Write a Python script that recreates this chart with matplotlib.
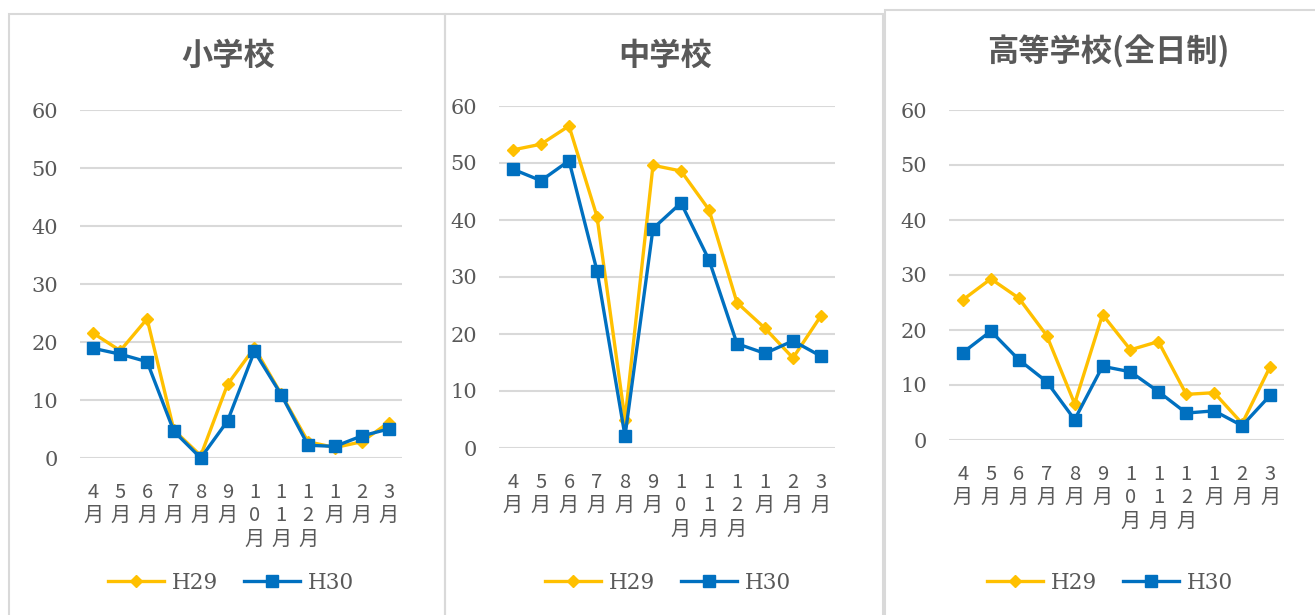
import matplotlib
matplotlib.use("Agg")
import matplotlib.pyplot as plt
from matplotlib.patches import Rectangle

months = ["4\n月", "5\n月", "6\n月", "7\n月", "8\n月", "9\n月",
          "1\n0\n月", "1\n1\n月", "1\n2\n月", "1\n月", "2\n月", "3\n月"]
titles = ["小学校", "中学校", "高等学校(全日制)"]
series_names = ["H29", "H30"]

elem_h29 = [21.5, 18.5, 24.0, 4.8, 0.4, 12.7, 19.0, 11.0, 2.8, 1.8, 2.8, 6.1]
elem_h30 = [18.9, 17.9, 16.6, 4.6, 0.0, 6.4, 18.4, 10.9, 2.2, 2.0, 3.8, 5.0]
mid_h29 = [52.3, 53.3, 56.5, 40.6, 5.0, 49.6, 48.6, 41.8, 25.5, 21.0, 15.8, 23.2]
mid_h30 = [48.9, 46.9, 50.4, 31.1, 2.1, 38.5, 43.0, 33.0, 18.3, 16.6, 18.8, 16.1]
high_h29 = [25.5, 29.3, 25.8, 19.0, 6.6, 22.8, 16.4, 17.9, 8.3, 8.6, 3.0, 13.3]
high_h30 = [15.9, 19.8, 14.6, 10.6, 3.7, 13.4, 12.4, 8.8, 4.9, 5.3, 2.6, 8.1]
yticks = [0, 10, 20, 30, 40, 50, 60]

data = [(elem_h29, elem_h30), (mid_h29, mid_h30), (high_h29, high_h30)]

W, H = 1315, 615
fig = plt.figure(figsize=(W / 100, H / 100), dpi=100)
fig.patch.set_facecolor("white")

# panel frames (pixel coords: left, top, right, bottom)
frames = [(9, 14, 445, 640), (445, 14, 883, 640), (885, 10, 1330, 640)]
for (l, t, r, b) in frames:
    fig.add_artist(Rectangle((l / W, 1 - b / H), (r - l) / W, (b - t) / H,
                             transform=fig.transFigure, fill=False,
                             edgecolor="#d9d9d9", lw=1.5))

# axes rectangles in pixels: left, right, top(60), bottom(0)
axpix = [(80, 402, 110, 458), (499, 835, 106, 448), (949, 1284, 110, 440)]
title_x = [228, 665, 1108]
title_y = [56, 56, 51]
legend_cx = [231, 668, 1110]

TXT = "#595959"
C29 = "#FFC000"
C30 = "#0070C0"
cjk = ["Noto Sans CJK JP", "DejaVu Sans"]
serif = ["DejaVu Serif"]

for i, ((l, r, t, b), (h29, h30)) in enumerate(zip(axpix, data)):
    ax = fig.add_axes([l / W, 1 - b / H, (r - l) / W, (b - t) / H])
    x = list(range(len(months)))
    ax.plot(x, h29, color=C29, lw=2.4, marker="D", markersize=6.5,
            label=series_names[0], zorder=3, clip_on=False)
    ax.plot(x, h30, color=C30, lw=2.4, marker="s", markersize=8,
            label=series_names[1], zorder=4, clip_on=False)
    ax.set_xlim(-0.5, len(months) - 0.5)
    ax.set_ylim(0, 60)
    ax.set_yticks(yticks)
    ax.set_yticklabels([str(v) for v in yticks], family=serif, fontsize=15, color=TXT)
    ax.set_xticks(x)
    ax.set_xticklabels(months, family=cjk, fontsize=14.5, color=TXT,
                       linespacing=1.16, va="top")
    ax.tick_params(axis="both", length=0)
    ax.tick_params(axis="y", pad=16)
    ax.tick_params(axis="x", pad=17)
    for s in ax.spines.values():
        s.set_visible(False)
    ax.grid(axis="y", color="#d9d9d9", lw=1.5)
    ax.set_axisbelow(True)
    fig.text(title_x[i] / W, 1 - title_y[i] / H, titles[i], family=cjk, fontsize=22.5,
             fontweight="bold", color=TXT, ha="center", va="center")
    leg = ax.legend(loc="center", bbox_to_anchor=(legend_cx[i] / W, 1 - 583 / H),
                    bbox_transform=fig.transFigure, ncol=2, frameon=False,
                    prop={"family": serif, "size": 15.5}, handlelength=2.6,
                    columnspacing=1.2, handletextpad=0.35)
    for txt in leg.get_texts():
        txt.set_color(TXT)

fig.savefig("out.png", dpi=100)
